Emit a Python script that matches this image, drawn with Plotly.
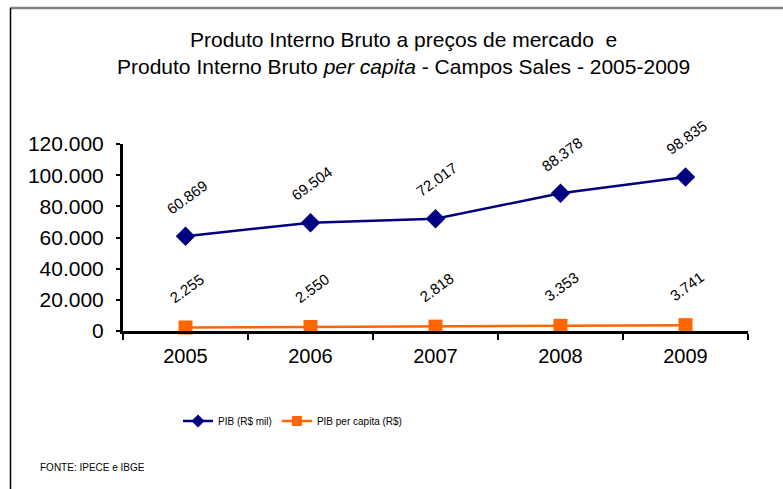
import plotly.graph_objects as go

anos = ["2005", "2006", "2007", "2008", "2009"]
pib = [60869, 69504, 72017, 88378, 98835]
pib_pc = [2255, 2550, 2818, 3353, 3741]
pib_labels = ["60.869", "69.504", "72.017", "88.378", "98.835"]
pc_labels = ["2.255", "2.550", "2.818", "3.353", "3.741"]
y_ticks = [0, 20000, 40000, 60000, 80000, 100000, 120000]
y_ticktext = ["0", "20.000", "40.000", "60.000", "80.000", "100.000", "120.000"]

W, H = 783, 489
L, R, T, B = 123, 35, 144, 158
pw = W - L - R
ph = H - T - B


def px(x):
    return (x - L) / pw


def py(y):
    return (H - B - y) / ph


FONT = "Liberation Sans, Arial, sans-serif"

NAVY = "#000080"
ORANGE = "#FF6600"

fig = go.Figure()
fig.add_trace(go.Scatter(
    x=anos, y=pib, name="PIB (R$ mil)", mode="lines+markers",
    line=dict(color=NAVY, width=2.5),
    marker=dict(symbol="diamond", size=15, color=NAVY),
    cliponaxis=False, showlegend=False,
))
fig.add_trace(go.Scatter(
    x=anos, y=pib_pc, name="PIB per capita (R$)", mode="lines+markers",
    line=dict(color=ORANGE, width=2.5),
    marker=dict(symbol="square", size=14, color=ORANGE),
    cliponaxis=False, showlegend=False,
))
# legend entries with smaller symbols
fig.add_trace(go.Scatter(
    x=[None], y=[None], name="PIB (R$ mil)", mode="lines+markers",
    line=dict(color=NAVY, width=2.5),
    marker=dict(symbol="diamond", size=10, color=NAVY),
))
fig.add_trace(go.Scatter(
    x=[None], y=[None], name="PIB per capita (R$)", mode="lines+markers",
    line=dict(color=ORANGE, width=2.5),
    marker=dict(symbol="square", size=10, color=ORANGE),
))

annotations = []
for i, (v, t) in enumerate(zip(pib, pib_labels)):
    annotations.append(dict(x=i, y=v, xref="x", yref="y", text=t, showarrow=False, textangle=-36,
                            yshift=39, xshift=1, font=dict(family=FONT, size=15, color="black")))
for i, (v, t) in enumerate(zip(pib_pc, pc_labels)):
    annotations.append(dict(x=i, y=v, xref="x", yref="y", text=t, showarrow=False, textangle=-36,
                            yshift=39, xshift=1, font=dict(family=FONT, size=15, color="black")))

annotations.append(dict(
    xref="paper", yref="paper", x=px(403), y=py(53), xanchor="center", yanchor="middle",
    text="Produto Interno Bruto a preços de mercado  e<br>Produto Interno Bruto <i>per capita</i> - Campos Sales - 2005-2009",
    showarrow=False, font=dict(family=FONT, size=21, color="black"), align="center"))
annotations.append(dict(
    xref="paper", yref="paper", x=px(38), y=py(467), xanchor="left", yanchor="middle",
    text="FONTE: IPECE e IBGE", showarrow=False,
    font=dict(family=FONT, size=10, color="black")))

shapes = [
    dict(type="line", xref="paper", yref="paper", x0=px(10), x1=px(783), y0=py(8), y1=py(8),
         line=dict(color="#808080", width=2.5)),
    dict(type="line", xref="paper", yref="paper", x0=px(10.5), x1=px(10.5), y0=py(8), y1=py(489),
         line=dict(color="black", width=1.5)),
]

fig.update_layout(
    width=W, height=H,
    margin=dict(l=L, r=R, t=T, b=B, pad=0),
    paper_bgcolor="white", plot_bgcolor="white",
    separators=",.",
    font=dict(family=FONT, color="black"),
    showlegend=True,
    legend=dict(orientation="h", x=px(178), y=py(421), xanchor="left", yanchor="middle",
                font=dict(family=FONT, size=10, color="black"), bgcolor="rgba(0,0,0,0)",
                itemwidth=30),
    annotations=annotations,
    shapes=shapes,
    xaxis=dict(type="category", range=[-0.5, 4.5], showline=True, linecolor="black", linewidth=3,
               ticks="outside", tickson="boundaries", ticklen=6, tickwidth=2, tickcolor="black",
               ticklabelstandoff=5,
               showgrid=False, zeroline=False, tickfont=dict(family=FONT, size=20, color="black")),
    yaxis=dict(range=[0, 120000], tickvals=y_ticks, ticktext=y_ticktext, showline=True,
               linecolor="black", linewidth=3, ticks="outside", ticklen=4, tickwidth=2,
               tickcolor="black", showgrid=False, zeroline=False, ticklabelstandoff=8,
               tickfont=dict(family=FONT, size=21, color="black")),
)

fig.write_html("out.html", post_script="document.body.style.margin='0';",
               config={"displayModeBar": False})
